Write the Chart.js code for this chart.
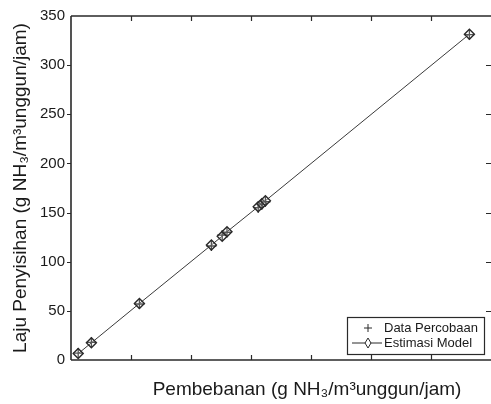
<!DOCTYPE html>
<html>
<head>
<meta charset="utf-8">
<script src="https://cdn.jsdelivr.net/npm/chart.js@4/dist/chart.umd.min.js"></script>
<style>
  html, body { margin: 0; padding: 0; background: #ffffff; }
  #wrap { width: 491px; height: 404px; position: relative; }
</style>
</head>
<body>
<div id="wrap"><canvas id="c" width="491" height="404"></canvas></div>
<script>
// ---- data ----
const loads        = [6, 17, 57, 117, 126, 130, 156, 159, 162, 332];
const removalData  = [7, 18, 57, 116, 127, 130, 155, 158, 161, 331];
const removalModel = [6.5, 17.5, 57.5, 117, 126, 130.5, 156, 159, 162, 331.5];
const yTickValues  = [0, 50, 100, 150, 200, 250, 300, 350];
const xTickValues  = [0, 50, 100, 150, 200, 250, 300, 350];
const seriesNames  = ['Data Percobaan', 'Estimasi Model'];
const xTitle = 'Pembebanan (g NH\u2083/m\u00B3unggun/jam)';
const yTitle = 'Laju Penyisihan (g NH\u2083/m\u00B3unggun/jam)';

const ink = '#2a2a2a';

const framePlugin = {
  id: 'frame',
  afterDraw(chart) {
    const ctx = chart.ctx;
    const a = chart.chartArea;
    const xs = chart.scales.x, ys = chart.scales.y;
    ctx.save();
    // frame
    ctx.strokeStyle = ink;
    ctx.lineWidth = 1.6;
    ctx.beginPath();
    ctx.moveTo(a.left, a.top); ctx.lineTo(a.right, a.top);
    ctx.moveTo(a.left, a.bottom); ctx.lineTo(a.right, a.bottom);
    ctx.moveTo(a.left, a.top); ctx.lineTo(a.left, a.bottom);
    ctx.stroke();
    // ticks
    ctx.lineWidth = 1.2;
    ctx.beginPath();
    xTickValues.forEach(v => {
      const px = Math.round(xs.getPixelForValue(v)) + 0.5;
      if (v === xs.min || v === xs.max) return;
      ctx.moveTo(px, a.bottom); ctx.lineTo(px, a.bottom - 5);
      ctx.moveTo(px, a.top); ctx.lineTo(px, a.top + 5);
    });
    yTickValues.forEach(v => {
      const py = Math.round(ys.getPixelForValue(v)) + 0.5;
      if (v === ys.min || v === ys.max) return;
      ctx.moveTo(a.left - 4, py); ctx.lineTo(a.left, py);
      ctx.moveTo(a.right, py); ctx.lineTo(a.right - 5, py);
    });
    ctx.stroke();

    // axis titles
    ctx.fillStyle = '#1a1a1a';
    ctx.font = '19px "Liberation Sans", Arial, sans-serif';
    ctx.textAlign = 'center';
    ctx.textBaseline = 'alphabetic';
    ctx.fillText(xTitle, 307, 395);
    ctx.save();
    ctx.translate(26, (a.top + a.bottom) / 2);
    ctx.rotate(-Math.PI / 2);
    ctx.fillText(yTitle, 0, 0);
    ctx.restore();

    // legend box
    const lx = 347, ly = 317, lw = 137, lh = 37;
    ctx.fillStyle = '#ffffff';
    ctx.fillRect(lx, ly, lw, lh);
    ctx.strokeStyle = ink;
    ctx.lineWidth = 1.2;
    ctx.strokeRect(lx + 0.5, ly + 0.5, lw, lh);
    ctx.font = '13px "Liberation Sans", Arial, sans-serif';
    ctx.textAlign = 'left';
    ctx.textBaseline = 'middle';
    ctx.fillStyle = '#1a1a1a';
    const r1 = ly + 11, r2 = ly + 26;
    // + symbol
    ctx.lineWidth = 1;
    ctx.beginPath();
    ctx.moveTo(364, r1); ctx.lineTo(372, r1);
    ctx.moveTo(368, r1 - 4); ctx.lineTo(368, r1 + 4);
    ctx.stroke();
    ctx.fillText(seriesNames[0], 384, r1);
    // line with diamond
    ctx.beginPath();
    ctx.moveTo(352, r2); ctx.lineTo(382, r2);
    ctx.stroke();
    ctx.beginPath();
    ctx.moveTo(368, r2 - 5); ctx.lineTo(371, r2); ctx.lineTo(368, r2 + 5); ctx.lineTo(365, r2); ctx.closePath();
    ctx.fillStyle = '#ffffff';
    ctx.fill();
    ctx.stroke();
    ctx.fillStyle = '#1a1a1a';
    ctx.fillText(seriesNames[1], 384, r2);
    ctx.restore();
  }
};

new Chart(document.getElementById('c'), {
  type: 'scatter',
  data: {
    datasets: [
      {
        label: seriesNames[0],
        data: loads.map((x, i) => ({ x: x, y: removalData[i] })),
        showLine: false,
        pointStyle: 'cross',
        pointRadius: 5,
        borderColor: ink,
        borderWidth: 1.3,
        order: 2
      },
      {
        label: seriesNames[1],
        data: loads.map((x, i) => ({ x: x, y: removalModel[i] })),
        showLine: true,
        pointStyle: 'rectRot',
        pointRadius: 5,
        borderColor: '#3a3a3a',
        pointBorderColor: ink,
        backgroundColor: 'rgba(0,0,0,0)',
        pointBackgroundColor: 'rgba(255,255,255,0.2)',
        borderWidth: 1,
        pointBorderWidth: 1.4,
        order: 1
      }
    ]
  },
  options: {
    responsive: false,
    animation: false,
    devicePixelRatio: 1,
    layout: { autoPadding: false, padding: { top: 16, right: 0, left: 0, bottom: 0 } },
    plugins: { legend: { display: false }, tooltip: { enabled: false } },
    scales: {
      x: {
        type: 'linear', min: 0, max: 350,
        afterBuildTicks(s) { s.ticks = xTickValues.map(v => ({ value: v })); },
        ticks: { display: false },
        grid: { display: false, drawTicks: false },
        border: { display: false },
        afterFit(s) { s.height = 44; }
      },
      y: {
        type: 'linear', min: 0, max: 350,
        afterBuildTicks(s) { s.ticks = yTickValues.map(v => ({ value: v })); },
        ticks: {
          padding: 6,
          color: '#1a1a1a',
          font: { family: '"Liberation Sans Narrow", "Liberation Sans", Arial, sans-serif', size: 15 }
        },
        grid: { display: false, drawTicks: false },
        border: { display: false },
        afterFit(s) { s.width = 71; }
      }
    }
  },
  plugins: [framePlugin]
});
</script>
</body>
</html>
